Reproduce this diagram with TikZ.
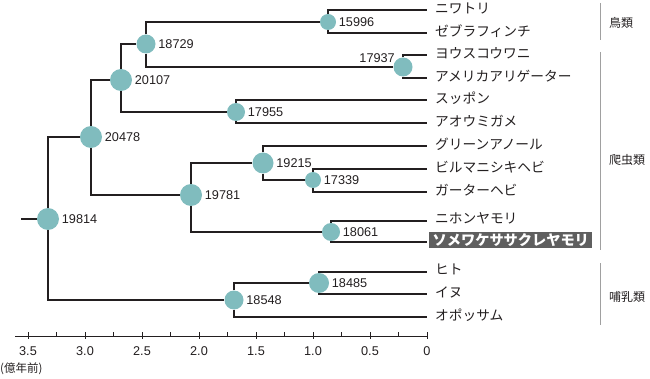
\documentclass[tikz,border=0pt]{standalone}
\usepackage{fontspec}
\setmainfont{Liberation Sans}
\newfontfamily\jp{Noto Sans CJK JP}
\definecolor{teal0}{RGB}{128,188,190}
\definecolor{ink}{RGB}{35,31,32}
\definecolor{hlgray}{RGB}{95,95,95}
\definecolor{brgray}{RGB}{160,160,160}
\begin{document}
\begin{tikzpicture}[x=1pt,y=-1pt,
  br/.style={line width=1.4pt, ink},
  nd/.style={circle, fill=teal0, inner sep=0pt, minimum size=#1},
  num/.style={font=\fontsize{12.7}{14}\selectfont, text=ink, inner sep=0pt, label distance=2.5pt},
  leaf/.style={font=\jp\fontsize{13.7}{15}\selectfont, text=ink, inner sep=0pt, anchor=west},
  grp/.style={font=\jp\fontsize{12}{14}\selectfont, text=ink, inner sep=0pt, anchor=west},
  hl/.style={font=\jp\bfseries\fontsize{14.2}{15}\selectfont, text=white, fill=hlgray, inner xsep=3.5pt, inner ysep=0pt, minimum height=16pt, anchor=west},
  brk/.style={line width=0.9pt, brgray},
  axl/.style={font=\fontsize{12.7}{14}\selectfont, text=ink, inner sep=0pt},
]
\useasboundingbox (0,0) rectangle (650,379);

% internal nodes
\node[nd=22, label={[num]right:19814}] (n19814) at (48,219) {};
\node[nd=22, label={[num]right:20478}] (n20478) at (91,137) {};
\node[nd=22, label={[num]right:20107}] (n20107) at (121,80) {};
\node[nd=19, label={[num]right:18729}] (n18729) at (146,44) {};
\node[nd=16, label={[num]right:15996}] (n15996) at (328,22) {};
\node[nd=19] (n17937) at (403,67) {};
\node[num, anchor=south east] (t17937) at (395,63) {17937};
\node[nd=18, label={[num]right:17955}] (n17955) at (236,112) {};
\node[nd=22, label={[num]right:19781}] (n19781) at (191,195) {};
\node[nd=21, label={[num]right:19215}] (n19215) at (263,163) {};
\node[nd=16, label={[num]right:17339}] (n17339) at (313,180) {};
\node[nd=18, label={[num]right:18061}] (n18061) at (331,232) {};
\node[nd=19, label={[num]right:18548}] (n18548) at (234,300) {};
\node[nd=20, label={[num]right:18485}] (n18485) at (319,283) {};

% leaves
\coordinate (l1) at (427,10);
\coordinate (l2) at (427,33);
\coordinate (l3) at (427,55);
\coordinate (l4) at (427,78);
\coordinate (l5) at (427,100);
\coordinate (l6) at (427,123);
\coordinate (l7) at (427,146);
\coordinate (l8) at (427,169);
\coordinate (l9) at (427,192);
\coordinate (l10) at (427,221);
\coordinate (l11) at (427,242);
\coordinate (l12) at (427,272);
\coordinate (l13) at (427,294);
\coordinate (l14) at (427,317);
\coordinate (root) at (21,219);

\node[leaf] (t1) at (435,8) {ニワトリ};
\node[leaf] (t2) at (435,31) {ゼブラフィンチ};
\node[leaf] (t3) at (435,53) {ヨウスコウワニ};
\node[leaf] (t4) at (435,76) {アメリカアリゲーター};
\node[leaf] (t5) at (435,98) {スッポン};
\node[leaf] (t6) at (435,121) {アオウミガメ};
\node[leaf] (t7) at (435,144) {グリーンアノール};
\node[leaf] (t8) at (435,167) {ビルマニシキヘビ};
\node[leaf] (t9) at (435,190) {ガーターヘビ};
\node[leaf] (t10) at (435,218) {ニホンヤモリ};
\node[hl] (t11) at (429,240) {ソメワケササクレヤモリ};
\node[leaf] (t12) at (435,269) {ヒト};
\node[leaf] (t13) at (435,292) {イヌ};
\node[leaf] (t14) at (435,315) {オポッサム};

% edges
\draw[br] (root) -- (n19814);
\draw[br] (n19814) |- (n20478);
\draw[br] (n19814) |- (n18548);
\draw[br] (n20478) |- (n20107);
\draw[br] (n20478) |- (n19781);
\draw[br] (n20107) |- (n18729);
\draw[br] (n20107) |- (n17955);
\draw[br] (n18729) |- (n15996);
\draw[br] (n18729) |- (n17937);
\draw[br] (n15996) |- (l1);
\draw[br] (n15996) |- (l2);
\draw[br] (n17937) |- (l3);
\draw[br] (n17937) |- (l4);
\draw[br] (n17955) |- (l5);
\draw[br] (n17955) |- (l6);
\draw[br] (n19781) |- (n19215);
\draw[br] (n19781) |- (n18061);
\draw[br] (n19215) |- (l7);
\draw[br] (n19215) |- (n17339);
\draw[br] (n17339) |- (l8);
\draw[br] (n17339) |- (l9);
\draw[br] (n18061) |- (l10);
\draw[br] (n18061) |- (l11);
\draw[br] (n18548) |- (n18485);
\draw[br] (n18548) |- (l14);
\draw[br] (n18485) |- (l12);
\draw[br] (n18485) |- (l13);

% group brackets
\draw[brk] (600,3) -- (600,40);
\draw[brk] (600,52) -- (600,250);
\draw[brk] (600,263) -- (600,325);
\node[grp] (g1) at (609,23) {鳥類};
\node[grp] (g2) at (609,160) {爬虫類};
\node[grp] (g3) at (609,297) {哺乳類};

% axis
\draw[line width=1pt, ink] (15,336) -- (427,336);
\foreach \t in {0,0.5,1.0,1.5,2.0,2.5,3.0,3.5} {
  \draw[line width=1pt, ink] ({427-114*\t},332) -- ({427-114*\t},339);
}
\foreach \t in {0.25,0.75,1.25,1.75,2.25,2.75,3.25} {
  \draw[line width=0.8pt, ink] ({427-114*\t},332) -- ({427-114*\t},336);
}
\foreach \t/\s in {0/0,0.5/0.5,1.0/1.0,1.5/1.5,2.0/2.0,2.5/2.5,3.0/3.0,3.5/3.5} {
  \node[axl] at ({427-114*\t},351) {\s};
}
\node[grp, font=\jp\fontsize{11.5}{13}\selectfont] (unit) at (0,369) {(億年前)};
\end{tikzpicture}
\end{document}
